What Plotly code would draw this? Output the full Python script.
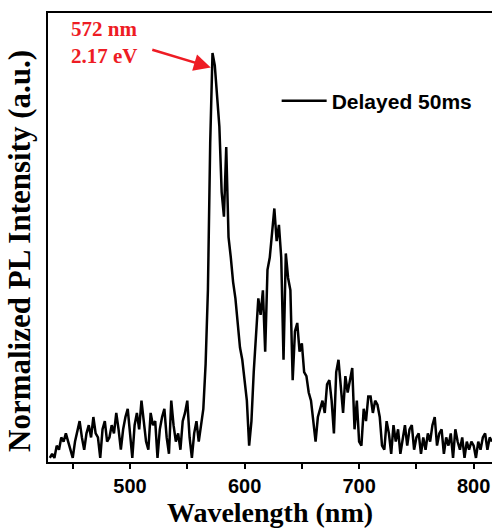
import plotly.graph_objects as go

# Wavelength grid (nm) and normalized PL intensity
wavelength = list(range(430, 818, 2))
intensity = [
    0.01, 0.02, 0.01, 0.04, 0.03, 0.06, 0.05, 0.07, 0.05, 0.03,   # 430-448
    0.01, 0.05, 0.08, 0.10, 0.06, 0.03, 0.07, 0.09, 0.06, 0.11,   # 450-468
    0.07, 0.06, 0.01, 0.08, 0.10, 0.05, 0.06, 0.09, 0.07, 0.12,   # 470-488
    0.08, 0.03, 0.08, 0.11, 0.13, 0.07, 0.01, 0.09, 0.12, 0.08,   # 490-508
    0.15, 0.10, 0.05, 0.03, 0.12, 0.09, 0.10, 0.01, 0.08, 0.11,   # 510-528
    0.13, 0.06, 0.02, 0.15, 0.09, 0.05, 0.07, 0.03, 0.10, 0.12,   # 530-548
    0.15, 0.06, 0.01, 0.07, 0.10, 0.05, 0.09, 0.13, 0.24, 0.42,   # 550-568
    0.78, 1.00, 0.97, 0.90, 0.82, 0.66, 0.60, 0.77, 0.55, 0.50,   # 570-588
    0.44, 0.40, 0.33, 0.28, 0.25, 0.20, 0.15, 0.04, 0.10, 0.22,   # 590-608
    0.30, 0.40, 0.36, 0.42, 0.27, 0.47, 0.50, 0.56, 0.62, 0.54,   # 610-628
    0.58, 0.50, 0.25, 0.51, 0.45, 0.42, 0.20, 0.32, 0.34, 0.27,   # 630-648
    0.29, 0.22, 0.21, 0.17, 0.15, 0.10, 0.05, 0.11, 0.13, 0.15,   # 650-668
    0.12, 0.19, 0.20, 0.15, 0.07, 0.22, 0.25, 0.18, 0.12, 0.21,   # 670-688
    0.17, 0.20, 0.23, 0.08, 0.15, 0.05, 0.04, 0.13, 0.10, 0.16,   # 690-708
    0.16, 0.12, 0.15, 0.14, 0.11, 0.04, 0.03, 0.10, 0.07, 0.02,   # 710-728
    0.09, 0.05, 0.08, 0.02, 0.06, 0.09, 0.04, 0.08, 0.09, 0.03,   # 730-748
    0.06, 0.07, 0.02, 0.06, 0.03, 0.07, 0.05, 0.09, 0.11, 0.04,   # 750-768
    0.07, 0.08, 0.02, 0.06, 0.04, 0.07, 0.01, 0.08, 0.05, 0.03,   # 770-788
    0.06, 0.01, 0.05, 0.03, 0.05, 0.04, 0.01, 0.05, 0.03, 0.06,   # 790-808
    0.07, 0.03, 0.06, 0.05,                                       # 810-816
]
series_name = "Delayed 50ms"
peak_nm = 572
peak_label = "572 nm<br>2.17 eV"
x_ticks = [500, 600, 700, 800]
y_title = "Normalized PL Intensity (a.u.)"
x_title = "Wavelength (nm)"

serif = "Liberation Serif, Times New Roman, serif"
sans = "Liberation Sans, Arial, sans-serif"

fig = go.Figure()
fig.add_trace(go.Scatter(
    x=wavelength, y=intensity, mode="lines", name=series_name,
    line=dict(color="black", width=2.5),
))

peak_val = intensity[wavelength.index(peak_nm)]

# red arrow pointing at the peak
fig.add_annotation(
    x=peak_nm - 1.5, y=peak_val * 0.965, xref="x", yref="y",
    text="", showarrow=True, arrowhead=2, arrowsize=1.3, arrowwidth=2.6,
    arrowcolor="#ee1c24", ax=-60, ay=-18, standoff=0,
)
# label text
fig.add_annotation(
    x=0.048, y=0.935, xref="paper", yref="paper", xanchor="left", yanchor="middle",
    text=peak_label, showarrow=False, align="left",
    font=dict(family=serif, size=21, color="#ee1c24", weight="bold"),
)
# y-axis title (placed as rotated text)
fig.add_annotation(
    x=-0.063, y=0.47, xref="paper", yref="paper", xanchor="center", yanchor="middle",
    text=y_title, showarrow=False, textangle=-90,
    font=dict(family=serif, size=31, color="black", weight="bold"),
)

fig.update_layout(
    width=492, height=528,
    margin=dict(l=48, r=0, t=13, b=66),
    paper_bgcolor="white", plot_bgcolor="white",
    showlegend=True,
    legend=dict(x=0.515, y=0.804, xanchor="left", yanchor="middle",
                bgcolor="rgba(0,0,0,0)", itemwidth=45,
                font=dict(family=sans, size=21, color="black", weight="bold")),
    xaxis=dict(
        range=[428.4, 816], showline=True, linecolor="black", linewidth=2,
        mirror=True, showgrid=False, zeroline=False,
        ticks="outside", ticklen=5, tickwidth=2, tickcolor="black",
        tickvals=x_ticks,
        minor=dict(dtick=50, tick0=450, ticks="outside", ticklen=5, tickwidth=2, tickcolor="black"),
        tickfont=dict(family=sans, size=20, color="black", weight="bold"),
        title=dict(text=x_title, standoff=5,
                   font=dict(family=serif, size=28, color="black", weight="bold")),
    ),
    yaxis=dict(
        range=[0, 1.098], showline=True, linecolor="black", linewidth=2,
        mirror=False, showgrid=False, zeroline=False,
        showticklabels=False, ticks="",
    ),
)

fig.write_html("out.html")
